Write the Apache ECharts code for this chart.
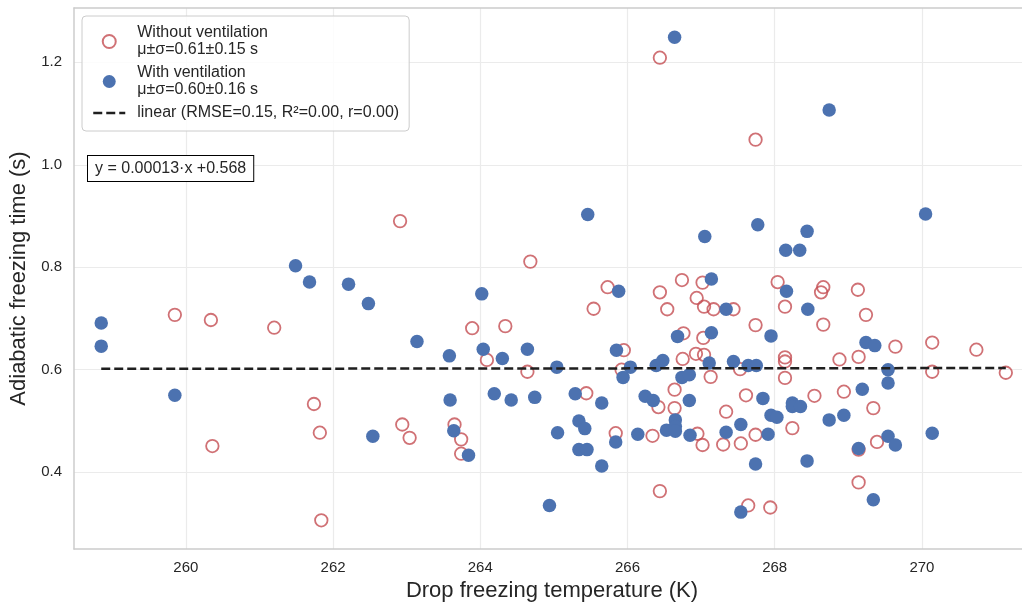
<!DOCTYPE html>
<html><head><meta charset="utf-8">
<script src="https://cdn.jsdelivr.net/npm/echarts@6/dist/echarts.min.js"></script>
<style>html,body{margin:0;padding:0;background:#fff;overflow:hidden}#c{width:1022px;height:607px}</style>
</head><body><div id="c"></div>
<script>
// ---- data ----
const xTicks = [260, 262, 264, 266, 268, 270];
const yTicks = [0.4, 0.6, 0.8, 1.0, 1.2];

const noVentT = [
  262.91,259.85,260.34,261.20,261.74,261.82,260.36,261.84,262.94,263.04,
  266.44,267.74,264.68,265.73,265.54,263.89,264.34,264.09,264.64,265.95,
  265.92,265.44,266.44,266.54,266.74,267.02,266.94,267.04,267.17,267.44,
  266.76,267.03,266.93,267.04,266.75,267.13,266.64,263.65,263.74,263.74,
  265.84,266.34,266.44,266.64,266.42,266.95,267.02,268.04,268.66,268.63,
  269.13,268.14,269.24,267.74,268.66,269.64,270.14,270.74,268.14,268.14,
  268.88,269.14,267.53,268.14,270.14,271.14,267.61,268.54,268.94,267.34,
  269.34,267.30,267.54,267.74,268.24,269.14,269.39,269.14,267.64,267.94
];
const noVentTime = [
  0.890,0.707,0.697,0.682,0.533,0.477,0.451,0.306,0.493,0.467,
  1.209,1.049,0.811,0.761,0.719,0.681,0.685,0.619,0.596,0.638,
  0.600,0.554,0.751,0.718,0.775,0.770,0.740,0.723,0.718,0.718,
  0.671,0.662,0.631,0.629,0.621,0.586,0.561,0.493,0.464,0.436,
  0.476,0.471,0.363,0.525,0.527,0.475,0.453,0.771,0.761,0.751,
  0.756,0.723,0.707,0.687,0.688,0.645,0.653,0.639,0.624,0.616,
  0.620,0.625,0.601,0.584,0.596,0.594,0.550,0.549,0.557,0.518,
  0.525,0.454,0.456,0.473,0.486,0.444,0.459,0.380,0.335,0.331
];
const ventT = [
  258.85,258.85,259.85,261.49,261.68,262.21,262.48,262.54,263.14,263.58,
  263.59,263.64,263.84,264.02,264.04,264.19,264.30,264.42,264.64,264.74,
  264.94,265.04,265.05,265.29,265.34,265.42,265.34,265.45,265.46,265.65,
  265.65,265.85,265.88,265.84,265.94,266.04,266.14,266.24,266.35,266.39,
  266.48,266.53,266.64,266.65,266.65,266.65,266.68,266.74,266.84,266.84,
  266.85,267.05,267.14,267.14,267.11,267.34,267.34,267.44,267.54,267.54,
  267.64,267.75,267.77,267.74,267.84,267.91,267.95,267.95,268.03,268.15,
  268.16,268.24,268.24,268.34,268.35,268.44,268.45,268.44,268.74,268.74,
  268.94,269.14,269.19,269.24,269.36,269.34,269.54,269.54,269.54,269.64,
  270.05,270.14
];
const ventTime = [
  0.691,0.646,0.550,0.803,0.771,0.767,0.729,0.470,0.655,0.627,
  0.541,0.481,0.433,0.748,0.640,0.553,0.622,0.541,0.640,0.546,
  0.335,0.605,0.477,0.553,0.500,0.485,0.444,0.444,0.903,0.535,
  0.412,0.638,0.753,0.459,0.585,0.605,0.474,0.548,0.540,0.608,
  0.618,0.482,1.249,0.502,0.489,0.480,0.665,0.585,0.590,0.540,
  0.472,0.860,0.777,0.672,0.613,0.718,0.478,0.616,0.493,0.322,
  0.608,0.608,0.883,0.416,0.544,0.474,0.666,0.511,0.507,0.833,
  0.753,0.535,0.528,0.833,0.528,0.870,0.718,0.422,0.502,1.107,
  0.511,0.446,0.562,0.653,0.647,0.346,0.600,0.574,0.470,0.453,
  0.904,0.476
];
const fitSlope = 0.00013;
const fitIntercept = 0.568;
const legendLabels = {
  'Without ventilation': 'Without ventilation\nμ±σ=0.61±0.15 s',
  'With ventilation': 'With ventilation\nμ±σ=0.60±0.16 s',
  'linear': 'linear (RMSE=0.15, R²=0.00, r=0.00)'
};

// ---- build ----
const zip = (a, b) => a.map((v, i) => [v, b[i]]);
const allT = noVentT.concat(ventT);
const tMin = Math.min(...allT), tMax = Math.max(...allT);
const fitLine = [tMin, tMax].map(t => [t, fitSlope * t + fitIntercept]);
const FONT = 'Liberation Sans, Arial, sans-serif';
const TXT = '#262626';
const LINE_STYLE = {color: '#1f1f1f', width: 2.5, type: [9, 4]};
const SPINE = {show: true, lineStyle: {color: '#cccccc', width: 1.5}};
const X_MIN = 258.48, X_MAX = 271.36;

const chart = echarts.init(document.getElementById('c'), null, {renderer: 'canvas'});
chart.setOption({
  animation: false,
  backgroundColor: '#ffffff',
  textStyle: {fontFamily: FONT},
  grid: {left: 74, right: 0, top: 8, bottom: 56, show: false},
  xAxis: [{
    type: 'value', min: X_MIN, max: X_MAX, position: 'bottom',
    name: 'Drop freezing temperature (K)', nameLocation: 'middle', nameGap: 31,
    nameTextStyle: {fontSize: 22, color: TXT, fontFamily: FONT, padding: [0, 0, 0, 8]},
    axisLine: SPINE,
    axisTick: {show: false, customValues: xTicks},
    axisLabel: {customValues: xTicks, fontSize: 15, color: TXT, margin: 11, fontFamily: FONT,
                formatter: v => String(v)},
    splitLine: {show: true, lineStyle: {color: '#ebebeb', width: 1.2}}
  }, {
    type: 'value', min: X_MIN, max: X_MAX, position: 'top',
    axisLine: SPINE, axisTick: {show: false}, axisLabel: {show: false}, splitLine: {show: false}
  }],
  yAxis: {
    type: 'value', min: 0.25, max: 1.306,
    name: 'Adiabatic freezing time (s)', nameLocation: 'middle', nameGap: 43,
    nameTextStyle: {fontSize: 22, color: TXT, fontFamily: FONT},
    axisLine: SPINE,
    axisTick: {show: false, customValues: yTicks},
    axisLabel: {customValues: yTicks, fontSize: 15, color: TXT, margin: 12, fontFamily: FONT,
                formatter: v => v.toFixed(1)},
    splitLine: {show: true, lineStyle: {color: '#ebebeb', width: 1.2}}
  },
  legend: {
    orient: 'vertical', left: 82, top: 16,
    padding: [8, 10, 9, 10], itemGap: 5, itemWidth: 32, itemHeight: 13,
    backgroundColor: 'rgba(255,255,255,0.85)', borderColor: '#cccccc', borderWidth: 1, borderRadius: 4,
    textStyle: {fontSize: 16, color: TXT, lineHeight: 17, fontFamily: FONT, padding: [1, 0, 0, 7]},
    data: ['Without ventilation', 'With ventilation',
           {name: 'linear', itemStyle: {color: 'rgba(0,0,0,0)', borderWidth: 0}, lineStyle: LINE_STYLE}],
    formatter: name => legendLabels[name]
  },
  graphic: [{
    type: 'text', left: 87, top: 155, z: 100,
    style: {
      text: 'y = ' + fitSlope + '·x +' + fitIntercept,
      font: '16px ' + FONT, fill: TXT,
      backgroundColor: '#ffffff', borderColor: '#000000', borderWidth: 1,
      padding: [5, 7, 4, 7]
    }
  }],
  series: [
    {
      name: 'Without ventilation', type: 'scatter', symbol: 'circle', symbolSize: 12.5, z: 2,
      itemStyle: {color: 'rgba(255,255,255,0)', borderColor: '#C44E52', borderWidth: 1.8},
      data: zip(noVentT, noVentTime)
    },
    {
      name: 'With ventilation', type: 'scatter', symbol: 'circle', symbolSize: 13.5, z: 3,
      itemStyle: {color: '#4C72B0', opacity: 1},
      data: zip(ventT, ventTime)
    },
    {
      name: 'linear', type: 'line', symbol: 'none', z: 4,
      lineStyle: LINE_STYLE,
      itemStyle: {color: 'rgba(0,0,0,0)'},
      data: fitLine
    }
  ]
});
</script></body></html>
